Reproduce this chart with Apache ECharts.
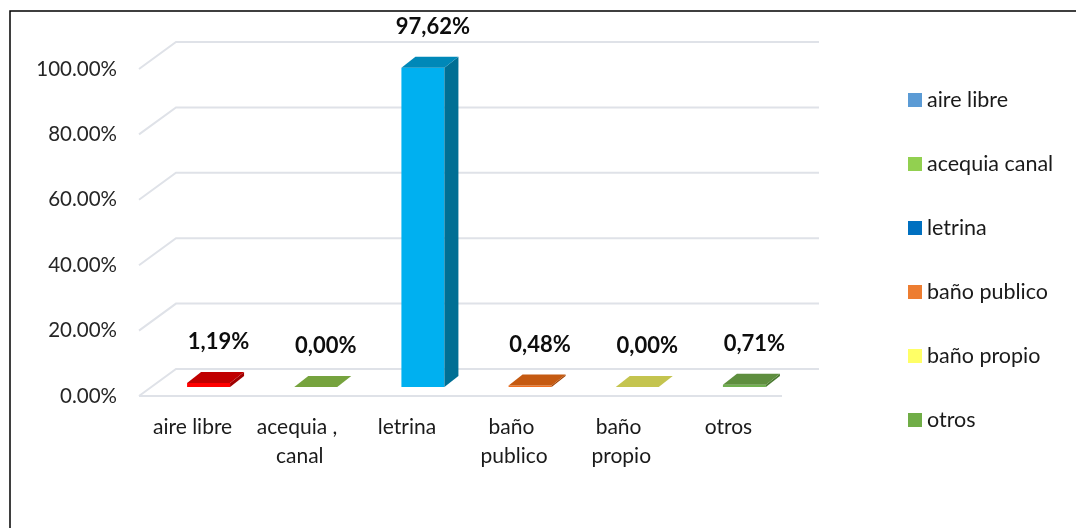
<!DOCTYPE html>
<html>
<head>
<meta charset="utf-8">
<script src="https://cdn.jsdelivr.net/npm/echarts@6/dist/echarts.min.js"></script>
<style>
  html, body { margin: 0; padding: 0; background: #fff; }
  #chart { width: 1076px; height: 528px; }
</style>
</head>
<body>
<div id="chart"></div>
<script>
// datos
var categorias = ['aire libre', 'acequia , canal', 'letrina', 'baño publico', 'baño propio', 'otros'];
var leyenda = ['aire libre', 'acequia canal', 'letrina', 'baño publico', 'baño propio', 'otros'];
var valores = [1.19, 0.00, 97.62, 0.48, 0.00, 0.71];
var ticksY = [0, 20, 40, 60, 80, 100];

// colores de la leyenda (no coinciden con las barras, como en el original)
var coloresLeyenda = ['#5b9bd5', '#92d050', '#0070c0', '#ed7d31', '#ffff66', '#70ad47'];
// colores de barra: frente, lado, tapa
var coloresBarra = [
  ['#ff0000', '#a00000', '#c00000'],
  ['#8cc152', '#5f8a30', '#76a33e'],
  ['#00b0f0', '#006f94', '#0088b8'],
  ['#f07020', '#a04000', '#c55a11'],
  ['#dede6a', '#a0a040', '#c4c44f'],
  ['#70b050', '#4a7a30', '#5e8e3e']
];

var FONT = 'Lato, "Noto Sans", sans-serif';
var DX = 37, DY = -27;      // profundidad de la pared
var BW = 43, BDX = 14, BDY = -11; // barra 3d

function fmt(v) { return v.toFixed(2).replace('.', ',') + '%'; }

var chart = echarts.init(document.getElementById('chart'));

// lineas de la cuadricula en perspectiva
var serieGrid = {
  type: 'custom',
  name: 'grid',
  silent: true,
  z: 1,
  data: ticksY.map(function (t) { return [0, t]; }),
  renderItem: function (params, api) {
    var cs = params.coordSys;
    var y = api.coord([0, api.value(1)])[1];
    var x0 = cs.x, x1 = cs.x + cs.width;
    var pts = [[x0, y], [x0 + DX, y + DY], [x1 + DX, y + DY]];
    var kids = [{
      type: 'polyline',
      shape: { points: pts },
      style: { stroke: '#dfe2e8', lineWidth: 2, fill: null }
    }];
    if (api.value(1) === 0) {
      kids.push({
        type: 'line',
        shape: { x1: x0, y1: y, x2: x1, y2: y },
        style: { stroke: '#dfe2e8', lineWidth: 2 }
      });
    }
    return { type: 'group', children: kids };
  }
};

var series = [serieGrid];
categorias.forEach(function (c, i) {
  series.push({
    type: 'custom',
    name: leyenda[i],
    z: 2,
    data: [[i, valores[i]]],
    renderItem: function (params, api) {
      var base = api.coord([api.value(0), 0]);
      var top = api.coord([api.value(0), api.value(1)]);
      var col = coloresBarra[i];
      var fx = base[0] + 16;
      var x0 = fx - BW / 2, x1 = fx + BW / 2;
      var yb = base[1] - 9, yt = top[1] - 9;
      return {
        type: 'group',
        children: [
          { type: 'rect', shape: { x: x0, y: yt, width: BW, height: yb - yt }, style: { fill: col[0] } },
          { type: 'polygon', shape: { points: [[x1, yb], [x1, yt], [x1 + BDX, yt + BDY], [x1 + BDX, yb + BDY]] }, style: { fill: col[1] } },
          { type: 'polygon', shape: { points: [[x0, yt], [x1, yt], [x1 + BDX, yt + BDY], [x0 + BDX, yt + BDY]] }, style: { fill: col[2] } },
          {
            type: 'text',
            style: {
              text: fmt(api.value(1)), x: fx + 10, y: yt + BDY - 30,
              align: 'center', verticalAlign: 'middle',
              fontFamily: FONT, fontWeight: 'bold', fontSize: 22, fill: '#0d0d0d'
            }
          }
        ]
      };
    }
  });
});

chart.setOption({
  animation: false,
  textStyle: { fontFamily: FONT },
  graphic: [{
    type: 'rect',
    shape: { x: 10, y: 11, width: 1200, height: 700 },
    style: { fill: null, stroke: '#000', lineWidth: 1.5 },
    silent: true
  }],
  grid: { left: 139, right: 294, top: 69, bottom: 132 },
  xAxis: {
    type: 'category',
    data: categorias,
    axisLine: { show: false },
    axisTick: { show: false },
    axisLabel: {
      fontSize: 21, color: '#1a1a1a', margin: 17, lineHeight: 29,
      width: 100, overflow: 'break', interval: 0
    }
  },
  yAxis: {
    type: 'value',
    min: 0, max: 100, interval: 20,
    axisLine: { show: false },
    axisTick: { show: false },
    splitLine: { show: false },
    axisLabel: {
      fontSize: 20.5, color: '#262626', margin: 22,
      formatter: function (v) { return v.toFixed(2) + '%'; }
    }
  },
  legend: {
    orient: 'vertical',
    left: 908,
    top: 89,
    padding: 0,
    itemWidth: 14,
    itemHeight: 14,
    itemGap: 42,
    icon: 'rect',
    selectedMode: false,
    textStyle: { fontSize: 21.5, color: '#1a1a1a', lineHeight: 22 },
    data: leyenda.map(function (n, i) {
      return { name: n, itemStyle: { color: coloresLeyenda[i] } };
    })
  },
  series: series
});
</script>
</body>
</html>
